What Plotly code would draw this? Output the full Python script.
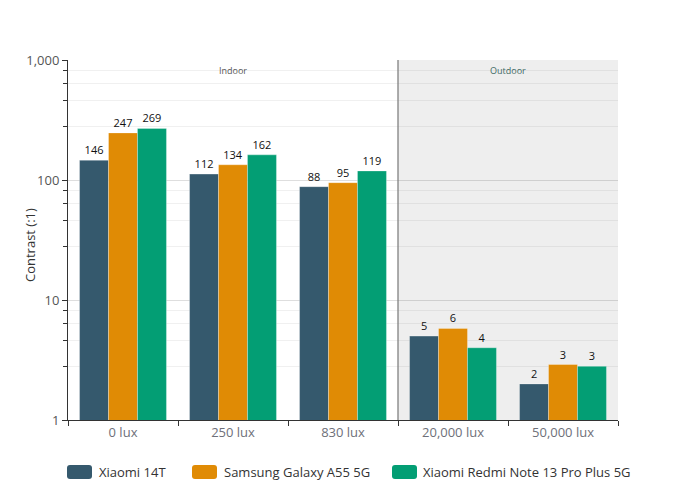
import plotly.graph_objects as go

categories = ["0 lux", "250 lux", "830 lux", "20,000 lux", "50,000 lux"]
xiaomi_14t = [146, 112, 88, 5.0, 2.0]
samsung_a55 = [247, 134, 95, 5.8, 2.9]
redmi_note13 = [269, 162, 119, 4.0, 2.8]
series_names = ["Xiaomi 14T", "Samsung Galaxy A55 5G", "Xiaomi Redmi Note 13 Pro Plus 5G"]
series_colors = ["#35596d", "#e08b05", "#039e74"]
y_tickvals = [1, 10, 100, 1000]
y_ticktext = ["1", "10", "100", "1,000"]
minor_vals = [2.8, 4.6, 6.4, 8.2, 28, 46, 64, 82, 280, 460, 640, 820]

FONT = "Open Sans, Noto Sans, sans-serif"
W, H = 687, 480
L, R, T, B = 68, 69, 60, 60
PW, PH = W - L - R, H - T - B

fig = go.Figure()
for name, vals, col in zip(series_names, [xiaomi_14t, samsung_a55, redmi_note13], series_colors):
    fig.add_trace(go.Bar(
        x=categories, y=vals, name=name,
        marker=dict(color=col, line=dict(color="rgba(255,255,255,0.5)", width=0.6)),
        texttemplate="%{y:.0f}", textposition="outside",
        textfont=dict(size=11, color="#111", family=FONT),
        cliponaxis=False, showlegend=False,
    ))

# Outdoor shaded region and divider
fig.add_shape(type="rect", xref="x", yref="y domain", x0=2.5, x1=4.5, y0=0, y1=1,
              fillcolor="#eeeeee", line=dict(width=0), layer="below")
fig.add_shape(type="line", xref="x", yref="y domain", x0=2.5, x1=2.5, y0=0, y1=1,
              line=dict(color="#777", width=1.2), layer="above")
fig.add_annotation(x=1, y=0.972, xref="x", yref="paper", text="Indoor", showarrow=False,
                   yanchor="middle", font=dict(size=9, color="#555", family=FONT))
fig.add_annotation(x=3.5, y=0.972, xref="x", yref="paper", text="Outdoor", showarrow=False,
                   yanchor="middle", font=dict(size=9, color="#3f6a66", family=FONT))

def px2paper(px, py):
    return (px - L) / PW, (H - B - py) / PH

# Y-axis title
tx, ty = px2paper(30, 245)
fig.add_annotation(x=tx, y=ty, xref="paper", yref="paper", text="Contrast (:1)",
                   textangle=-90, showarrow=False, xanchor="center", yanchor="middle",
                   font=dict(size=13, color="#333", family=FONT))

# Custom legend
leg_items = [(67, 97), (192, 222), (392, 421)]
for (rx, tx), name, col in zip(leg_items, series_names, series_colors):
    x0, y0 = px2paper(rx, 479)
    x1, y1 = px2paper(rx + 25, 465)
    rxp, ryp = 3 / PW, 3 / PH
    path = (f"M{x0+rxp},{y0} L{x1-rxp},{y0} Q{x1},{y0} {x1},{y0+ryp} L{x1},{y1-ryp} "
            f"Q{x1},{y1} {x1-rxp},{y1} L{x0+rxp},{y1} Q{x0},{y1} {x0},{y1-ryp} "
            f"L{x0},{y0+ryp} Q{x0},{y0} {x0+rxp},{y0} Z")
    fig.add_shape(type="path", xref="paper", yref="paper", path=path,
                  fillcolor=col, line=dict(width=0))
    tx_p, ty_p = px2paper(tx, 472)
    fig.add_annotation(x=tx_p, y=ty_p, xref="paper", yref="paper", text=name,
                       showarrow=False, xanchor="left", yanchor="middle",
                       font=dict(size=13, color="#333", family=FONT))

fig.update_layout(
    width=W, height=H,
    margin=dict(l=L, r=R, t=T, b=B, autoexpand=False),
    paper_bgcolor="white", plot_bgcolor="white",
    barmode="group", bargap=0.21, bargroupgap=0,
    font=dict(family=FONT, size=12, color="#333"),
    showlegend=False,
)
fig.update_xaxes(
    showline=True, linecolor="#333", linewidth=1,
    ticks="outside", tickson="boundaries", ticklen=5, tickcolor="#333",
    tickfont=dict(size=13, color="#6e7079"), showgrid=False, automargin=False,
)
fig.update_yaxes(
    type="log", range=[0, 3],
    tickvals=y_tickvals, ticktext=y_ticktext,
    showline=True, linecolor="#333", linewidth=1,
    ticks="outside", ticklen=5, tickcolor="#333",
    tickfont=dict(size=13, color="#555"),
    showgrid=True, gridcolor="rgba(0,0,0,0.13)", gridwidth=1,
    zeroline=False, automargin=False,
    minor=dict(tickvals=minor_vals, ticks="outside", ticklen=4, tickcolor="#333",
               showgrid=True, gridcolor="rgba(0,0,0,0.06)", gridwidth=1),
)

fig.write_html("out.html", config={"displayModeBar": False},
               post_script="document.body.style.margin='0';")
